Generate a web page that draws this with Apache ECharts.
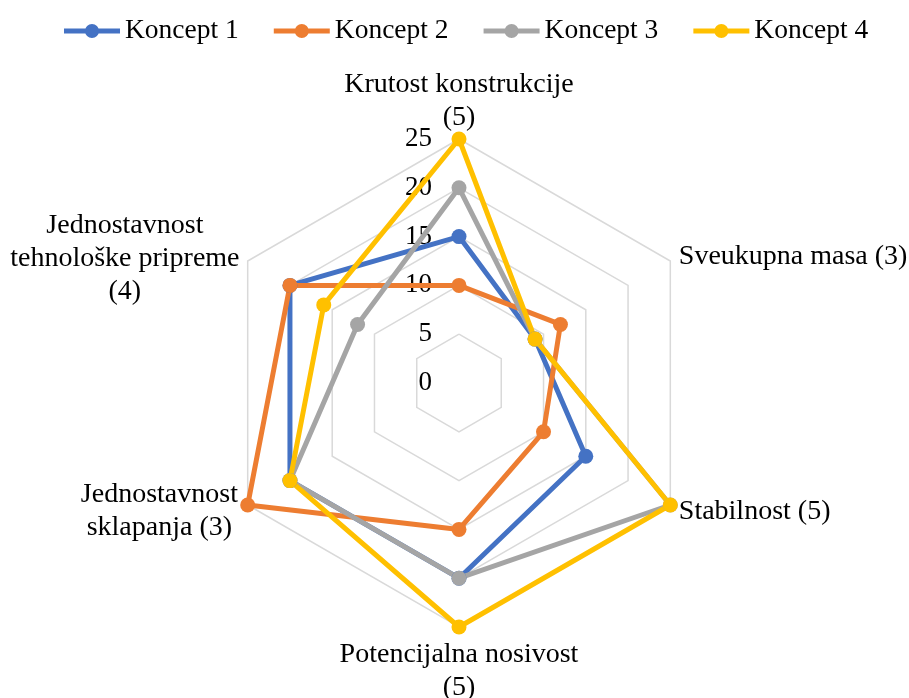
<!DOCTYPE html>
<html>
<head>
<meta charset="utf-8">
<title>Usporedba koncepata</title>
<script src="https://cdn.jsdelivr.net/npm/echarts@6/dist/echarts.min.js"></script>
<style>
  html, body { margin: 0; padding: 0; background: #fff; }
  #chart { width: 909px; height: 698px; }
</style>
</head>
<body>
<div id="chart"></div>
<script>
// kriteriji, redoslijed kao u Excelu (u smjeru kazaljke, od vrha)
const criteria = [
  "Krutost konstrukcije\n(5)",
  "Sveukupna masa (3)",
  "Stabilnost (5)",
  "Potencijalna nosivost\n(5)",
  "Jednostavnost\nsklapanja (3)",
  "Jednostavnost\ntehnološke pripreme\n(4)"
];
const konceptNames = ["Koncept 1", "Koncept 2", "Koncept 3", "Koncept 4"];
const koncept1 = [15, 9, 15, 20, 20, 20];
const koncept2 = [10, 12, 10, 15, 25, 20];
const koncept3 = [20, 9, 25, 20, 20, 12];
const koncept4 = [25, 9, 25, 25, 20, 16];
const radialTicks = [0, 5, 10, 15, 20, 25];

const colors = ["#4472C4", "#ED7D31", "#A5A5A5", "#FFC000"];
const FONT = "'Liberation Serif', 'Times New Roman', serif";
const FS = 28;

// sitni pomaci natpisa osi (razmak gore/dolje, lijevo, dodatna sirina)
const nameNudge = [
  { top: 0, bottom: 0, left: 0, extra: 0 },
  { top: 0, bottom: 4, left: 4, extra: 0 },
  { top: 8, bottom: 0, left: 4, extra: 0 },
  { top: 6, bottom: 0, left: 0, extra: 0 },
  { top: 8, bottom: 0, left: 0, extra: 10 },
  { top: 0, bottom: 0, left: 0, extra: 7 }
];

// echarts crta radar suprotno od kazaljke, pa okrećemo redoslijed
const order = [0, 5, 4, 3, 2, 1];
const reorder = (arr) => order.map((i) => arr[i]);

// sirina najduljeg retka, da se retci centriraju unutar bloka
const ctx = document.createElement("canvas").getContext("2d");
ctx.font = FS + "px " + FONT;
const rich = {};
criteria.forEach((c, i) => {
  const w = Math.max(...c.split("\n").map((s) => ctx.measureText(s).width));
  rich["n" + i] = { width: Math.ceil(w) + nameNudge[i].extra, align: "center", fontSize: FS, fontFamily: FONT, lineHeight: 33, color: "#000" };
  const nd = nameNudge[i];
  if (nd.top) rich["t" + i] = { lineHeight: nd.top, fontSize: 2 };
  if (nd.bottom) rich["b" + i] = { lineHeight: nd.bottom, fontSize: 2 };
  if (nd.left) rich["l" + i] = { width: nd.left, fontSize: 2 };
});

function formatName(name) {
  const i = criteria.indexOf(name);
  const nd = nameNudge[i];
  let lines = name.split("\n").map((s) => "{n" + i + "|" + s + "}");
  if (nd.left) lines = lines.map((l) => "{l" + i + "| }" + l);
  if (nd.top) lines.unshift("{t" + i + "| }");
  if (nd.bottom) lines.push("{b" + i + "| }");
  return lines.join("\n");
}

// ikona legende: crta s kruzicem (kao Excel)
const legendIcon = "path://M0,4.5 H56 V9.5 H0 Z M21,7 A7,7 0 1,1 35,7 A7,7 0 1,1 21,7 Z";

const chart = echarts.init(document.getElementById("chart"));
const maxVal = radialTicks[radialTicks.length - 1];

const option = {
  animation: false,
  textStyle: { fontFamily: FONT },
  color: colors,
  legend: {
    top: 12,
    left: 59,
    itemWidth: 56,
    itemHeight: 14,
    itemGap: 35,
    data: konceptNames.map((n) => ({ name: n, icon: legendIcon })),
    textStyle: { fontSize: 27.5, color: "#000", fontFamily: FONT }
  },
  radar: {
    center: [459, 383],
    radius: 244,
    shape: "polygon",
    splitNumber: radialTicks.length - 1,
    axisNameGap: 5,
    axisName: {
      color: "#000",
      fontSize: FS,
      fontFamily: FONT,
      lineHeight: 33,
      rich: rich,
      formatter: formatName
    },
    indicator: reorder(criteria).map((c) => ({ name: c, min: radialTicks[0], max: maxVal })),
    axisLine: { show: false },
    axisTick: { show: false },
    axisLabel: { show: false },
    splitArea: { show: false },
    splitLine: { lineStyle: { color: "#D9D9D9", width: 1.5 } }
  },
  // skala 0-25 uz gornju os
  grid: { left: 438, top: 139, width: 20, height: 244 },
  xAxis: { type: "value", show: false },
  yAxis: {
    type: "value",
    min: radialTicks[0],
    max: maxVal,
    interval: radialTicks[1] - radialTicks[0],
    axisLine: { show: false },
    axisTick: { show: false },
    splitLine: { show: false },
    axisLabel: { fontSize: 27, color: "#000", margin: 6, fontFamily: FONT }
  },
  series: [koncept1, koncept2, koncept3, koncept4].map((vals, k) => ({
    type: "radar",
    name: konceptNames[k],
    symbol: "circle",
    symbolSize: 15,
    lineStyle: { width: 5, color: colors[k] },
    itemStyle: { color: colors[k] },
    data: [{ name: konceptNames[k], value: reorder(vals) }]
  }))
};

chart.setOption(option);
</script>
</body>
</html>
